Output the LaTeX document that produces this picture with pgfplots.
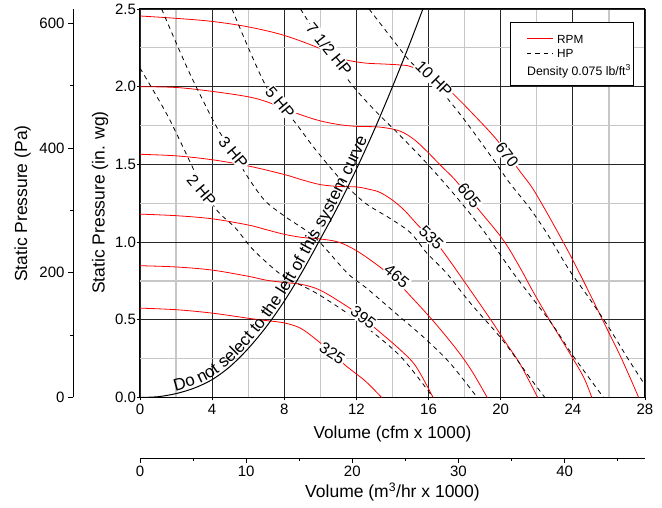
\documentclass[border=0pt]{standalone}
\usepackage{fontspec}
\setmainfont{Liberation Sans}
\usepackage{pgfplots}
\pgfplotsset{compat=1.18}
\usetikzlibrary{decorations.text}
\newcommand{\fs}[1]{\fontsize{#1}{#1}\selectfont}
\tikzset{lab/.style={fill=white, inner sep=1pt, font=\fs{16}}}
\begin{document}
\begin{tikzpicture}
\path[use as bounding box] (-140pt,-110.5pt) rectangle (522pt,397.5pt);

% ---- Pa axis (left, secondary)
\begin{axis}[
  at={(-67pt,0pt)}, anchor=south west,
  scale only axis, width=505pt, height=388.5pt,
  xmin=0, xmax=1, ymin=0, ymax=622.72,
  hide x axis, axis y line*=left,
  axis line style={black, line width=0.8pt},
  ytick={0,200,400,600}, minor ytick={100,300,500},
  tick align=outside, major tick length=5pt, minor tick length=3pt,
  tick style={black, line width=0.8pt},
  /pgf/number format/assume math mode=true,
  yticklabel style={font=\fs{15}},
  ylabel={Static Pressure (Pa)},
  every axis y label/.style={at={(axis description cs:-0.1,0.499)}, rotate=90, anchor=center, font=\fs{17.5}},
]
\end{axis}

% ---- m3/hr axis (bottom, secondary)
\begin{axis}[
  at={(0pt,-60.5pt)}, anchor=south west,
  scale only axis, width=505pt, height=388.5pt,
  xmin=0, xmax=47.572, ymin=0, ymax=1,
  hide y axis, axis x line*=bottom,
  axis line style={black, line width=0.8pt},
  xtick={0,10,20,30,40}, minor xtick={5,15,25,35,45},
  tick align=outside, major tick length=5pt, minor tick length=3pt,
  tick style={black, line width=0.8pt},
  /pgf/number format/assume math mode=true,
  xticklabel style={font=\fs{15}, yshift=1pt},
  xlabel={Volume (m\textsuperscript{3}/hr x 1000)},
  every axis x label/.style={at={(axis description cs:0.5,-0.0875)}, anchor=center, font=\fs{17.5}},
]
\end{axis}

% ---- main axis
\begin{axis}[
  at={(0pt,0pt)}, anchor=south west,
  scale only axis, width=505pt, height=388.5pt,
  xmin=0, xmax=28, ymin=0, ymax=2.5,
  xtick={0,4,...,28}, ytick={0,0.5,...,2.5},
  minor x tick num=1, minor y tick num=1,
  grid=both,
  major grid style={black!85, line width=0.9pt},
  minor grid style={black!22, line width=1.2pt},
  axis line style={black, line width=1pt},
  tick style={black, line width=0.8pt},
  tick pos=left, tick align=outside,
  major tick length=3pt, minor tick length=0pt,
  /pgf/number format/assume math mode=true,
  ticklabel style={font=\fs{15}},
  yticklabel style={/pgf/number format/.cd, fixed, fixed zerofill, precision=1, /tikz/.cd, xshift=2.5pt},
  xlabel={Volume (cfm x 1000)},
  ylabel={Static Pressure (in. wg)},
  every axis x label/.style={at={(axis description cs:0.5,-0.094)}, anchor=center, font=\fs{17.2}},
  every axis y label/.style={at={(axis description cs:-0.0792,0.502)}, rotate=90, anchor=center, font=\fs{17.5}},
  rpm/.style={red, line width=0.8pt, smooth, tension=0.55, forget plot},
  hp/.style={black, line width=0.8pt, dash pattern=on 4.5pt off 4pt, smooth, tension=0.5, forget plot},
]

% RPM curves
\addplot[rpm] coordinates {(0,2.455) (2,2.44) (4,2.42) (6,2.385) (8,2.33) (10,2.245) (11,2.19) (11.5,2.17) (12.5,2.152) (13.5,2.146) (14.4,2.14) (15,2.13) (16,2.075) (16.7,2.02) (17.4,1.95) (18.5,1.82) (19.7,1.67) (20.4,1.56) (21.1,1.45) (21.8,1.34) (22.8,1.14) (23.9,0.906) (24.8,0.70) (25.7,0.487) (26.7,0.25) (27.65,0)};
\addplot[rpm] coordinates {(0,2.0) (2,1.995) (4,1.97) (6,1.935) (7.1,1.90) (8.9,1.82) (10,1.78) (11.1,1.755) (12,1.745) (13.3,1.74) (14.4,1.715) (15.2,1.66) (15.9,1.585) (16.7,1.49) (17.55,1.39) (18.7,1.22) (20.1,1.02) (21.0,0.85) (21.8,0.68) (22.7,0.50) (23.8,0.29) (24.6,0.13) (25.05,0)};
\addplot[rpm] coordinates {(0,1.565) (2,1.555) (4,1.53) (6,1.49) (8,1.435) (9,1.40) (10,1.37) (11,1.358) (12,1.355) (12.7,1.34) (13.3,1.32) (14.0,1.27) (14.7,1.20) (15.4,1.11) (16.2,1.02) (16.8,0.94) (18.2,0.71) (19.45,0.50) (20.3,0.35) (21.1,0.21) (22.05,0)};
\addplot[rpm] coordinates {(0,1.18) (2,1.17) (4,1.15) (6,1.11) (7,1.08) (8,1.05) (9,1.03) (10,1.02) (11,1.0) (12,0.945) (13.3,0.84) (14.2,0.75) (14.7,0.69) (16.2,0.50) (17.55,0.31) (18.4,0.17) (19.25,0)};
\addplot[rpm] coordinates {(0,0.848) (2,0.84) (4,0.82) (6,0.78) (7,0.755) (8,0.74) (9,0.727) (10,0.69) (11.3,0.60) (12.3,0.52) (13.0,0.45) (14.4,0.31) (15.3,0.20) (16.25,0)};
\addplot[rpm] coordinates {(0,0.575) (2,0.565) (4,0.543) (6,0.51) (7,0.495) (8,0.48) (8.9,0.446) (9.8,0.37) (10.6,0.29) (11.46,0.20) (12.5,0.105) (13.4,0)};

% HP curves
\addplot[hp] coordinates {(0,2.12) (1.5,1.82) (2.8,1.51) (3.4,1.36) (4.3,1.2) (5.3,1.09) (6.2,0.96) (7.3,0.84) (8.1,0.77) (9.8,0.67) (12.0,0.5) (14.4,0.27) (16.25,0)};
\addplot[hp] coordinates {(1.2,2.5) (2.7,2.1) (4.3,1.73) (5.2,1.58) (5.8,1.45) (6.9,1.27) (8.1,1.16) (9.7,1.03) (11.5,0.80) (12.6,0.70) (14.4,0.52) (15.8,0.38) (17.2,0.22) (18.7,0)};
\addplot[hp] coordinates {(5.1,2.5) (7.0,2.0) (8.6,1.77) (9.7,1.6) (11.3,1.38) (12.5,1.25) (13.9,1.15) (15.0,1.06) (15.9,0.93) (17.0,0.80) (18.3,0.61) (20.1,0.37) (21.6,0.13) (22.45,0)};
\addplot[hp] coordinates {(8.9,2.5) (10.0,2.3) (11.7,2.02) (13.0,1.85) (14.3,1.70) (15.8,1.52) (17.4,1.31) (19.0,1.08) (20.7,0.80) (22.8,0.48) (24.0,0.27) (25.7,0)};
\addplot[hp] coordinates {(12.7,2.5) (13.9,2.32) (15.0,2.16) (16.2,2.04) (17.9,1.80) (19.6,1.53) (20.5,1.38) (21.6,1.22) (22.6,1.05) (23.8,0.82) (24.9,0.64) (26.0,0.45) (27.0,0.26) (28.0,0.08)};

% system curve
\addplot[black, line width=1pt, smooth, forget plot] coordinates {(0,0) (1,0.005) (2,0.025) (3,0.06) (4,0.115) (5,0.2) (6,0.315) (7,0.455) (8,0.62) (9,0.81) (10,1.02) (11,1.235) (12,1.47) (13,1.725) (14,2.0) (15,2.29) (15.75,2.52)};
\addplot[draw=none, smooth, forget plot, postaction={decorate},
  decoration={text along path, raise=2.5pt, text align=left,
  text={|\fs{17}|Do not select to the left of this system curve}}]
  coordinates {(2,0.025) (3,0.06) (4,0.115) (5,0.2) (6,0.315) (7,0.455) (8,0.62) (9,0.81) (10,1.02) (11,1.235) (12,1.47) (13,1.725) (14,2.0) (15,2.29) (15.75,2.52)};

% labels
\node[lab, rotate=-53] at (axis cs:20.35,1.56) {670};
\node[lab, rotate=-52] at (axis cs:18.25,1.30) {605};
\node[lab, rotate=-44] at (axis cs:16.15,1.03) {535};
\node[lab, rotate=-40] at (axis cs:14.23,0.78) {465};
\node[lab, rotate=-37] at (axis cs:12.38,0.515) {395};
\node[lab, rotate=-33] at (axis cs:10.66,0.285) {325};
\node[lab, rotate=-50] at (axis cs:3.42,1.33) {2 HP};
\node[lab, rotate=-50] at (axis cs:5.17,1.575) {3 HP};
\node[lab, rotate=-50] at (axis cs:7.76,1.90) {5 HP};
\node[lab, rotate=-51] at (axis cs:10.49,2.24) {7 1/2 HP};
\node[lab, rotate=-45] at (axis cs:16.3,2.05) {10 HP};

% legend (key box)
\draw[black, line width=1pt, fill=white] (rel axis cs:0.7327,0.964) rectangle (rel axis cs:0.978,0.802);
\draw[red, line width=1pt] (rel axis cs:0.7663,0.9228) -- (rel axis cs:0.8178,0.9228);
\draw[black, line width=0.9pt, dash pattern=on 4.5pt off 4pt] (rel axis cs:0.7663,0.8867) -- (rel axis cs:0.8178,0.8867);
\node[anchor=base west, inner sep=0pt, font=\fs{11.8}] at (rel axis cs:0.8257,0.9122) {RPM};
\node[anchor=base west, inner sep=0pt, font=\fs{11.8}] at (rel axis cs:0.8257,0.8762) {HP};
\node[anchor=base west, inner sep=0pt, font=\fs{12.3}] at (rel axis cs:0.7663,0.8299) {Density 0.075 lb/ft\textsuperscript{3}};
\end{axis}
\end{tikzpicture}
\end{document}
